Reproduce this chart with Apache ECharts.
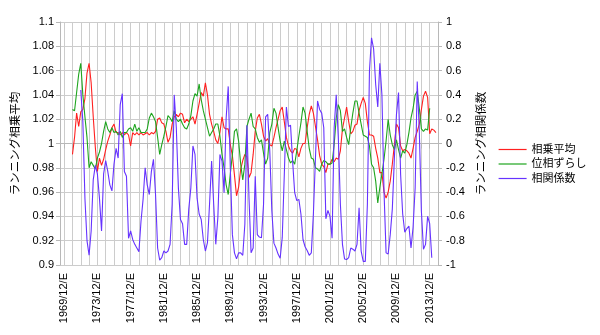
<!DOCTYPE html>
<html><head><meta charset="utf-8">
<script src="https://cdn.jsdelivr.net/npm/echarts@6/dist/echarts.min.js"></script>
<style>html,body{margin:0;padding:0;background:#fff}#c{width:600px;height:335px}</style>
</head><body><div id="c"></div>
<script>
// Quarterly categories from 1969/06 to 2014/12
const startYear = 1969, startMonth = 6, quarterCount = 183;
const categories = [];
for (let i = 0; i < quarterCount; i++) {
  const m = startMonth - 1 + 3 * i;
  categories.push((startYear + Math.floor(m / 12)) + '/' + String(m % 12 + 1).padStart(2, '0') + '/E');
}
const seriesNames = ['相乗平均', '位相ずらし', '相関係数'];
const leftAxisName = 'ランニング相乗平均';
const rightAxisName = 'ランニング相関係数';

// 相乗平均 (left axis), from 1970/12/E
const geoMeanStart = '1970/12/E';
const geoMean = [
  0.991,1.005,1.025,1.014,1.026,1.028,1.037,1.058,1.066,1.050,
  1.022,0.997,0.977,0.988,0.982,0.987,0.995,1.002,1.007,1.013,
  1.016,1.009,1.009,1.007,1.009,1.007,1.009,1.007,0.998,1.009,
  1.007,1.009,1.007,1.009,1.007,1.008,1.009,1.007,1.009,1.008,
  1.010,1.020,1.021,1.017,1.016,1.010,1.001,1.005,1.016,1.022,
  1.024,1.022,1.025,1.024,1.017,1.020,1.018,1.020,1.022,1.016,
  1.024,1.033,1.042,1.039,1.050,1.040,1.024,1.016,1.010,1.003,
  1.000,1.009,1.022,1.013,1.012,1.012,0.999,0.990,0.974,0.957,
  0.964,0.979,0.986,0.991,0.989,0.972,0.976,0.991,1.010,1.021,
  1.024,1.016,1.006,1.002,1.004,0.999,0.998,1.005,1.013,1.020,
  1.027,1.030,1.018,1.005,0.998,0.994,0.992,0.996,0.995,0.989,
  0.996,1.000,1.000,1.013,1.024,1.031,1.025,1.014,1.003,0.990,
  0.983,0.981,0.976,0.983,0.983,0.987,0.985,0.988,0.987,0.994,
  1.012,1.021,1.030,1.018,1.008,1.010,1.015,1.016,1.027,1.033,
  1.038,1.033,1.018,1.007,1.007,1.006,0.996,0.988,0.976,0.976,
  0.960,0.955,0.960,0.969,0.983,0.999,1.016,1.013,0.998,0.994,
  0.995,0.994,0.992,0.988,0.996,1.005,1.010,1.016,1.028,1.039,
  1.043,1.038,1.008,1.012,1.011,1.009
];

// 位相ずらし (left axis), from 1970/12/E
const phaseShiftStart = '1970/12/E';
const phaseShift = [
  1.028,1.027,1.042,1.057,1.066,1.040,1.022,1.005,0.980,0.985,
  0.982,0.979,0.988,0.993,1.000,1.010,1.018,1.012,1.009,1.013,
  1.009,1.010,1.007,1.010,1.005,1.009,1.009,1.012,1.013,1.010,
  1.016,1.010,1.013,1.009,1.009,1.009,1.012,1.021,1.025,1.022,
  1.018,1.005,0.991,0.999,1.006,1.014,1.023,1.021,1.018,1.027,
  1.020,1.018,1.020,1.016,1.013,1.012,1.016,1.023,1.035,1.041,
  1.039,1.049,1.036,1.027,1.020,1.013,1.006,1.009,1.012,1.016,
  1.016,1.006,0.991,0.980,0.966,0.958,0.975,0.991,1.010,1.012,
  1.002,0.983,0.970,0.983,1.014,1.020,1.025,1.014,1.012,1.005,
  1.001,1.003,0.992,0.983,0.988,1.009,1.016,1.029,1.025,1.013,
  1.002,0.994,1.002,0.995,0.988,0.984,0.986,0.983,0.994,1.006,
  1.017,1.030,1.025,1.010,0.996,0.988,0.987,0.980,0.979,0.977,
  0.983,0.986,0.985,0.983,0.983,0.984,0.999,1.021,1.032,1.027,
  1.010,1.012,1.005,0.999,1.013,1.025,1.035,1.035,1.025,1.016,
  1.007,1.006,1.005,0.998,0.983,0.980,0.969,0.951,0.964,0.975,
  0.987,1.002,1.020,1.007,0.999,0.995,1.003,0.995,0.988,0.994,
  0.992,0.999,1.009,1.021,1.029,1.040,1.043,1.029,1.012,1.010,
  1.012,1.011,1.029
];

// 相関係数 (right axis), from 1971/12/E
const correlStart = '1971/12/E';
const correl = [
  0.44,0.18,-0.45,-0.80,-0.92,-0.72,-0.30,-0.18,-0.25,-0.45,
  -0.72,-0.25,-0.14,-0.23,-0.34,-0.39,-0.17,-0.04,-0.12,0.32,
  0.41,-0.23,-0.27,-0.78,-0.72,-0.79,-0.83,-0.86,-0.89,-0.64,
  -0.46,-0.20,-0.34,-0.42,-0.23,-0.13,-0.42,-0.86,-0.96,-0.94,
  -0.885,-0.90,-0.885,-0.83,-0.50,0.40,0.13,-0.365,-0.625,-0.66,
  -0.83,-0.83,-0.54,-0.365,-0.02,-0.09,-0.45,-0.58,-0.625,-0.79,
  -0.885,-0.815,-0.50,-0.145,-0.50,-0.83,-0.61,-0.09,-0.145,-0.405,
  0.21,0.47,-0.20,-0.75,-0.90,-0.95,-0.90,-0.90,-0.92,-0.665,
  0.15,-0.45,-0.90,-0.86,-0.27,-0.75,-0.77,-0.775,-0.50,0.22,
  0.24,-0.06,-0.556,-0.82,-0.86,-0.91,-0.945,-0.775,-0.255,0.30,
  0.14,0.15,-0.145,-0.405,-0.47,-0.46,-0.58,-0.79,-0.85,-0.88,
  -0.92,-0.90,-0.58,-0.12,0.35,0.28,0.25,0.13,-0.62,-0.55,
  -0.60,-0.78,0.13,0.40,0.05,-0.50,-0.83,-0.95,-0.955,-0.94,
  -0.86,-0.87,-0.885,-0.83,-0.53,-0.885,-0.97,-0.97,-0.50,0.60,
  0.87,0.78,0.485,0.30,0.66,0.40,-0.39,-0.90,-0.91,-0.75,
  -0.54,-0.12,0.24,0.42,-0.255,-0.58,-0.73,-0.70,-0.68,-0.86,
  -0.69,-0.365,0.51,0.10,-0.556,-0.87,-0.83,-0.60,-0.66,-0.94
];

function placed(values, startLabel) {
  const s = categories.indexOf(startLabel);
  return new Array(s).fill(null).concat(values);
}

const FONT = "'Liberation Sans','Noto Sans CJK JP',sans-serif";
const GRID = '#cccccc';
const AXIS = '#b8b8b8';
const isDec = (idx, v) => String(v).indexOf('/12/') > 0;
const isLabel = (idx, v) => isDec(idx, v) && (parseInt(v, 10) - 1969) % 4 === 0;

const chart = echarts.init(document.getElementById('c'), null, {renderer: 'canvas'});
chart.setOption({
  animation: false,
  backgroundColor: '#fff',
  textStyle: {fontFamily: FONT},
  grid: {left: 60, right: 162, top: 22, bottom: 70, containLabel: false},
  legend: {
    orient: 'vertical', left: 493, top: 139,
    itemWidth: 28, itemHeight: 12, itemGap: 3.5,
    itemStyle: {opacity: 0, borderWidth: 0},
    lineStyle: {width: 1.2},
    textStyle: {fontFamily: FONT, fontSize: 11, color: '#000'},
    data: seriesNames
  },
  xAxis: {
    type: 'category', data: categories, boundaryGap: false,
    axisLine: {show: true, lineStyle: {color: AXIS, width: 1}},
    axisTick: {show: true, interval: isDec, length: 5, lineStyle: {color: AXIS}},
    axisLabel: {interval: isLabel, rotate: 90, margin: 8, fontSize: 11, color: '#000', fontFamily: FONT},
    splitLine: {show: true, interval: isDec, lineStyle: {color: GRID, width: 1}}
  },
  yAxis: [{
    type: 'value', position: 'left', min: 0.9, max: 1.1, interval: 0.02,
    name: leftAxisName, nameLocation: 'middle', nameGap: 32, nameRotate: 90,
    nameTextStyle: {fontSize: 11.5, color: '#000', fontFamily: FONT},
    axisLine: {show: true, lineStyle: {color: AXIS}},
    axisTick: {show: true, length: 4, lineStyle: {color: AXIS}},
    axisLabel: {margin: 6, fontSize: 11, color: '#000', fontFamily: FONT},
    splitLine: {show: true, lineStyle: {color: GRID, width: 1}}
  }, {
    type: 'value', position: 'right', min: -1, max: 1, interval: 0.2,
    name: rightAxisName, nameLocation: 'middle', nameGap: 36, nameRotate: 90,
    nameTextStyle: {fontSize: 11.5, color: '#000', fontFamily: FONT},
    axisLine: {show: true, lineStyle: {color: AXIS}},
    axisTick: {show: true, length: 4, lineStyle: {color: AXIS}},
    axisLabel: {margin: 8, fontSize: 11, color: '#000', fontFamily: FONT},
    splitLine: {show: false}
  }],
  series: [{
    name: seriesNames[0], type: 'line', yAxisIndex: 0, symbol: 'none',
    data: placed(geoMean, geoMeanStart),
    lineStyle: {color: '#ff2020', width: 1.1}, itemStyle: {color: '#ff2020'}
  }, {
    name: seriesNames[1], type: 'line', yAxisIndex: 0, symbol: 'none',
    data: placed(phaseShift, phaseShiftStart),
    lineStyle: {color: '#1ea51e', width: 1.1}, itemStyle: {color: '#1ea51e'}
  }, {
    name: seriesNames[2], type: 'line', yAxisIndex: 1, symbol: 'none',
    data: placed(correl, correlStart),
    lineStyle: {color: '#6633ff', width: 1.1}, itemStyle: {color: '#6633ff'}
  }]
});
</script>
</body></html>
